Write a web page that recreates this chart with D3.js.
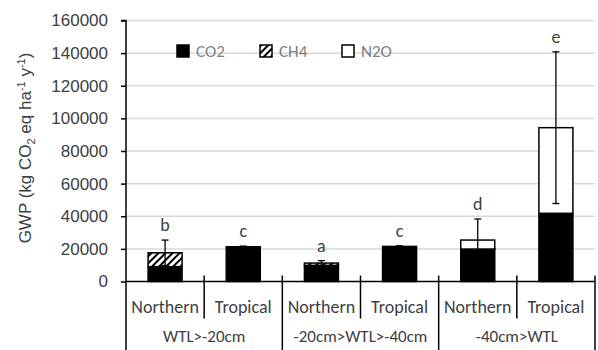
<!DOCTYPE html>
<html>
<head>
<meta charset="utf-8">
<script src="https://cdn.jsdelivr.net/npm/d3@7"></script>
<style>
  body { margin: 0; background: #fff; }
  svg { display: block; }
</style>
</head>
<body>
<div id="chart"></div>
<script>
// chart values
const categories = ['Northern', 'Tropical', 'Northern', 'Tropical', 'Northern', 'Tropical'];
const groups = ['WTL>-20cm', '-20cm>WTL>-40cm', '-40cm>WTL'];
const co2 = [9100, 21300, 9900, 21500, 19900, 41800];
const ch4 = [8500, 0, 1400, 0, 0, 0];
const n2o = [0, 0, 0, 0, 5500, 52500];
const errors = [7800, 400, 1500, 400, 12900, 46500];
const letters = ['b', 'c', 'a', 'c', 'd', 'e'];
const yTicks = [0, 20000, 40000, 60000, 80000, 100000, 120000, 140000, 160000];
const seriesNames = ['CO2', 'CH4', 'N2O'];

const width = 598, height = 350;
const margin = { top: 20.5, right: 3, bottom: 68.5, left: 126 };
const plotBottom = height - margin.bottom;

const svg = d3.select('#chart').append('svg')
  .attr('width', width)
  .attr('height', height);

const defs = svg.append('defs');
const hatch = defs.append('pattern')
  .attr('id', 'hatch')
  .attr('patternUnits', 'userSpaceOnUse')
  .attr('width', 5)
  .attr('height', 5)
  .attr('patternTransform', 'rotate(45)');
hatch.append('rect').attr('width', 5).attr('height', 5).attr('fill', '#fff');
hatch.append('rect').attr('width', 2).attr('height', 5).attr('fill', '#000');

const x = d3.scaleBand()
  .domain(d3.range(categories.length))
  .range([margin.left, width - margin.right])
  .paddingInner(0.565)
  .paddingOuter(0.2825);

const xGroup = d3.scaleBand()
  .domain(groups)
  .range([margin.left, width - margin.right]);

const y = d3.scaleLinear()
  .domain([0, 160000])
  .range([plotBottom, margin.top]);

// gridlines
svg.append('g')
  .selectAll('line')
  .data(yTicks.slice(1))
  .join('line')
  .attr('x1', margin.left)
  .attr('x2', width - margin.right)
  .attr('y1', d => y(d))
  .attr('y2', d => y(d))
  .attr('stroke', '#d9d9d9')
  .attr('stroke-width', 1.5);

// stacked bars
const rows = categories.map((c, i) => ({ i, CO2: co2[i], CH4: ch4[i], N2O: n2o[i] }));
const stack = d3.stack().keys(seriesNames)(rows);
const fills = { CO2: '#000', CH4: 'url(#hatch)', N2O: '#fff' };

svg.append('g')
  .selectAll('g')
  .data(stack)
  .join('g')
  .attr('fill', d => fills[d.key])
  .selectAll('rect')
  .data(d => d.filter(s => s[1] > s[0]))
  .join('rect')
  .attr('x', d => x(d.data.i))
  .attr('y', d => y(d[1]))
  .attr('width', x.bandwidth())
  .attr('height', d => y(d[0]) - y(d[1]))
  .attr('stroke', '#000')
  .attr('stroke-width', 1.5);

// error bars
const totals = rows.map(r => r.CO2 + r.CH4 + r.N2O);
const errG = svg.append('g').attr('stroke', '#000').attr('stroke-width', 1.3);
rows.forEach((r, i) => {
  const cx = x(i) + x.bandwidth() / 2;
  const top = y(totals[i] + errors[i]);
  const bottom = y(Math.max(0, totals[i] - errors[i]));
  errG.append('line').attr('x1', cx).attr('x2', cx).attr('y1', top).attr('y2', bottom);
  errG.append('line').attr('x1', cx - 3.5).attr('x2', cx + 3.5).attr('y1', top).attr('y2', top);
  errG.append('line').attr('x1', cx - 3.5).attr('x2', cx + 3.5).attr('y1', bottom).attr('y2', bottom);
});

// significance letters
svg.append('g')
  .selectAll('text')
  .data(letters)
  .join('text')
  .attr('x', (d, i) => x(i) + x.bandwidth() / 2)
  .attr('y', (d, i) => y(totals[i] + errors[i]) - 9)
  .attr('text-anchor', 'middle')
  .attr('font-family', 'Carlito, Lato, sans-serif')
  .attr('font-size', 18)
  .attr('fill', '#404040')
  .text(d => d);

// y axis
const yAxis = svg.append('g')
  .attr('transform', `translate(${margin.left},0)`)
  .call(d3.axisLeft(y).tickValues(yTicks).tickSize(5).tickPadding(13).tickFormat(d3.format('d')));
yAxis.select('.domain').attr('stroke', '#000').attr('stroke-width', 1.5)
  .attr('d', `M-5,${margin.top}H0V${height}`);
yAxis.selectAll('.tick line').attr('stroke', '#000').attr('stroke-width', 1.5);
yAxis.selectAll('.tick text')
  .attr('font-family', '"Liberation Sans", Arial, sans-serif')
  .attr('font-size', 17)
  .attr('fill', '#404040');

// x axis line and separators
const xAxisG = svg.append('g').attr('stroke', '#000').attr('stroke-width', 1.5);
xAxisG.append('line')
  .attr('x1', margin.left).attr('x2', width - margin.right)
  .attr('y1', plotBottom).attr('y2', plotBottom);
const step = x.step();
d3.range(1, categories.length + 1).forEach(k => {
  const sx = margin.left + k * step;
  const isGroupEdge = k % 2 === 0;
  xAxisG.append('line')
    .attr('x1', sx).attr('x2', sx)
    .attr('y1', plotBottom - 6)
    .attr('y2', isGroupEdge ? height : plotBottom + 37);
});

// category labels
svg.append('g')
  .selectAll('text')
  .data(categories)
  .join('text')
  .attr('x', (d, i) => x(i) + x.bandwidth() / 2)
  .attr('y', 313)
  .attr('text-anchor', 'middle')
  .attr('font-family', 'Carlito, Lato, sans-serif')
  .attr('font-size', 18)
  .attr('fill', '#404040')
  .text(d => d);

svg.append('g')
  .selectAll('text')
  .data(groups)
  .join('text')
  .attr('x', d => xGroup(d) + xGroup.bandwidth() / 2)
  .attr('y', 342)
  .attr('text-anchor', 'middle')
  .attr('font-family', 'Carlito, Lato, sans-serif')
  .attr('font-size', 17)
  .attr('fill', '#404040')
  .text(d => d);

// y axis title
const title = svg.append('text')
  .attr('transform', 'translate(31,148) rotate(-90)')
  .attr('text-anchor', 'middle')
  .attr('font-family', '"Liberation Sans", Arial, sans-serif')
  .attr('font-size', 17)
  .attr('fill', '#404040');
title.append('tspan').text('GWP (kg CO');
title.append('tspan').attr('font-size', 11).attr('dy', 4).text('2');
title.append('tspan').attr('dy', -4).text(' eq ha');
title.append('tspan').attr('font-size', 11).attr('dy', -6).text('-1');
title.append('tspan').attr('dy', 6).text(' y');
title.append('tspan').attr('font-size', 11).attr('dy', -6).text('-1');
title.append('tspan').attr('dy', 6).text(')');

// legend
const legendX = [177, 260, 342];
const legend = svg.append('g')
  .selectAll('g')
  .data(seriesNames)
  .join('g')
  .attr('transform', (d, i) => `translate(${legendX[i]},45)`);
legend.append('rect')
  .attr('width', 12).attr('height', 12)
  .attr('fill', d => fills[d])
  .attr('stroke', '#000')
  .attr('stroke-width', 1.5);
legend.append('text')
  .attr('x', 19).attr('y', 12)
  .attr('font-family', 'Carlito, Lato, sans-serif')
  .attr('font-size', 17)
  .attr('fill', '#7f7f7f')
  .text(d => d);
</script>
</body>
</html>
